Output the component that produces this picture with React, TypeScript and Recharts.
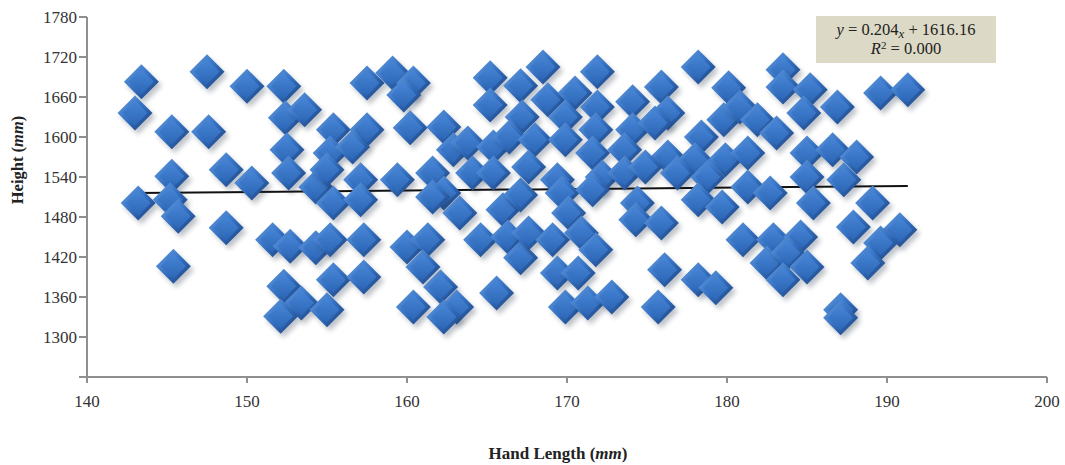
import React from 'react';
import { ScatterChart, Scatter, XAxis, YAxis, ReferenceLine, Label } from 'recharts';

const handLength = [
  143.4, 143.0, 147.5, 150.0, 152.3, 152.4, 153.6, 145.3, 147.6, 145.3, 148.7, 150.3, 152.5, 152.6, 143.2, 145.2, 145.7, 148.7, 145.4, 151.6, 152.7, 154.3, 152.3, 153.4, 152.1, 154.3,
  157.5, 159.1, 160.4, 159.8, 165.2, 165.2, 167.1, 167.2, 155.4, 157.5, 160.2, 162.3, 162.9, 163.8, 165.4, 166.4, 155.2, 156.6, 155.0, 157.1, 159.4, 161.6, 162.3, 164.1, 165.4, 155.4, 157.1, 161.6, 163.3, 166.0, 167.1, 155.2, 157.3, 155.4, 157.3, 160.0, 161.3, 161.0, 164.6, 166.3, 167.1, 165.6, 155.0, 160.4, 162.1, 163.1, 162.3,
  168.5, 171.9, 178.2, 168.8, 170.5, 171.9, 174.1, 175.9, 176.3, 180.1, 168.0, 169.9, 169.9, 171.8, 174.1, 175.5, 178.4, 179.8, 171.6, 173.6, 176.3, 178.0, 179.9, 167.6, 169.4, 172.2, 173.6, 174.9, 176.9, 178.8, 169.7, 171.6, 174.4, 178.2, 179.7, 170.1, 174.3, 175.9, 167.6, 169.1, 170.9, 171.8, 169.4, 170.7, 176.1, 178.2, 179.3, 169.9, 171.3, 172.8, 175.7,
  183.5, 183.5, 185.2, 186.9, 184.8, 189.6, 191.3, 180.8, 181.9, 183.1, 181.3, 185.0, 186.6, 188.1, 181.3, 182.7, 185.0, 187.3, 185.4, 189.1, 187.9, 190.8, 189.6, 181.0, 182.9, 184.6, 182.5, 183.8, 185.0, 183.5, 188.8, 187.1, 187.1,
];

const height = [
  1683, 1636, 1698, 1676, 1676, 1629, 1641, 1608, 1608, 1541, 1551, 1531, 1581, 1546, 1501, 1506, 1481, 1464, 1406, 1446, 1436, 1434, 1376, 1351, 1331, 1525,
  1681, 1696, 1681, 1663, 1689, 1648, 1677, 1630, 1611, 1611, 1614, 1615, 1581, 1591, 1585, 1600, 1576, 1585, 1551, 1536, 1536, 1546, 1516, 1546, 1546, 1501, 1506, 1510, 1486, 1491, 1513, 1446, 1446, 1386, 1390, 1435, 1446, 1405, 1446, 1450, 1419, 1366, 1341, 1345, 1375, 1345, 1330,
  1705, 1698, 1705, 1656, 1666, 1645, 1653, 1675, 1636, 1674, 1596, 1630, 1596, 1611, 1611, 1621, 1600, 1626, 1576, 1581, 1570, 1566, 1566, 1555, 1536, 1540, 1546, 1555, 1546, 1540, 1516, 1521, 1501, 1506, 1495, 1486, 1476, 1471, 1456, 1446, 1456, 1431, 1396, 1396, 1401, 1386, 1374, 1345, 1351, 1360, 1345,
  1701, 1675, 1671, 1645, 1636, 1666, 1671, 1645, 1626, 1606, 1576, 1576, 1581, 1570, 1525, 1516, 1540, 1536, 1501, 1501, 1465, 1461, 1441, 1446, 1446, 1450, 1411, 1426, 1405, 1386, 1411, 1341, 1329,
];

const trendX = [143.1, 191.3];
const trendY = [1516, 1526.5];

const xTicks = [140, 150, 160, 170, 180, 190, 200];
const yTicks = [1240, 1300, 1360, 1420, 1480, 1540, 1600, 1660, 1720, 1780];

const points = handLength.map((x, i) => ({ x, y: height[i] }));

const FONT = '"Liberation Serif", "DejaVu Serif", serif';
const AXIS = '#8f8f8f';

const Diamond = (props: any) => {
  const { cx, cy } = props;
  if (cx == null || cy == null) return <g />;
  const pts = (r: number, dx = 0, dy = 0) =>
    `${cx + dx},${cy + dy - r} ${cx + dx + r},${cy + dy} ${cx + dx},${cy + dy + r} ${cx + dx - r},${cy + dy}`;
  return (
    <g>
      <polygon points={pts(17.5, 3, 4)} fill="#1a2a40" opacity={0.28} filter="url(#dShadow)" />
      <polygon points={pts(17.5)} fill="url(#dEdge)" />
      <polygon points={pts(12.5)} fill="url(#dFace)" />
    </g>
  );
};

const YTitle = () => (
  <text x={17} y={160} transform="rotate(-90 17 160)" textAnchor="middle" dominantBaseline="central"
    fontFamily={FONT} fontSize={16.5} fontWeight="bold" fill="#222">
    Height (<tspan fontStyle="italic">mm</tspan>)
  </text>
);

const XTitle = () => (
  <text x={558} y={453} textAnchor="middle" dominantBaseline="central"
    fontFamily={FONT} fontSize={17} fontWeight="bold" fill="#222">
    Hand Length (<tspan fontStyle="italic">mm</tspan>)
  </text>
);

export default function App() {
  return (
    <div style={{ position: 'absolute', left: 0, top: 0, width: 1065, height: 465, background: '#fff' }}>
      <svg width={0} height={0} style={{ position: 'absolute' }}>
        <defs>
          <linearGradient id="dEdge" x1="0" y1="0" x2="1" y2="1">
            <stop offset="0%" stopColor="#6aa0e2" />
            <stop offset="50%" stopColor="#3370c2" />
            <stop offset="100%" stopColor="#1a3c74" />
          </linearGradient>
          <linearGradient id="dFace" x1="0" y1="0" x2="0" y2="1">
            <stop offset="0%" stopColor="#4785d6" />
            <stop offset="100%" stopColor="#2d67b7" />
          </linearGradient>
          <filter id="dShadow" x="-50%" y="-50%" width="200%" height="200%">
            <feGaussianBlur stdDeviation="2.5" />
          </filter>
        </defs>
      </svg>
      <ScatterChart width={1065} height={465} margin={{ top: 17, right: 18, bottom: 0, left: 0 }}>
        <XAxis
          type="number"
          dataKey="x"
          domain={[140, 200]}
          ticks={xTicks}
          height={88}
          stroke={AXIS}
          strokeWidth={2}
          tickSize={6}
          tickMargin={12}
          tick={{ fill: '#333', fontSize: 17, fontFamily: FONT }}
          tickLine={{ stroke: AXIS, strokeWidth: 2 }}
          allowDataOverflow
        >
          <Label content={<XTitle />} />
        </XAxis>
        <YAxis
          type="number"
          dataKey="y"
          domain={[1240, 1780]}
          ticks={yTicks}
          width={87}
          stroke={AXIS}
          strokeWidth={2}
          tickSize={8}
          tickMargin={2}
          tickFormatter={(v: number) => (v === 1240 ? '' : String(v))}
          tick={{ fill: '#333', fontSize: 17, fontFamily: FONT }}
          tickLine={{ stroke: AXIS, strokeWidth: 2 }}
          allowDataOverflow
        >
          <Label content={<YTitle />} />
        </YAxis>
        <Scatter data={points} shape={<Diamond />} isAnimationActive={false} />
        <ReferenceLine
          segment={[{ x: trendX[0], y: trendY[0] }, { x: trendX[1], y: trendY[1] }]}
          stroke="#111"
          strokeWidth={2}
          ifOverflow="visible"
        />
      </ScatterChart>
      <div
        style={{
          position: 'absolute', left: 816, top: 16, width: 180, height: 47,
          background: '#dcd9c6', fontFamily: FONT, fontSize: 16.5, color: '#222',
          textAlign: 'center', lineHeight: '19px', paddingTop: 4, boxSizing: 'border-box',
        }}
      >
        <div>
          <i>y</i> = 0.204<sub style={{ fontSize: 13, verticalAlign: '-3px', lineHeight: 0 }}><i>x</i></sub> + 1616.16
        </div>
        <div>
          <i>R</i><sup style={{ fontSize: 11, verticalAlign: '5px', lineHeight: 0 }}>2</sup> = 0.000
        </div>
      </div>
    </div>
  );
}
